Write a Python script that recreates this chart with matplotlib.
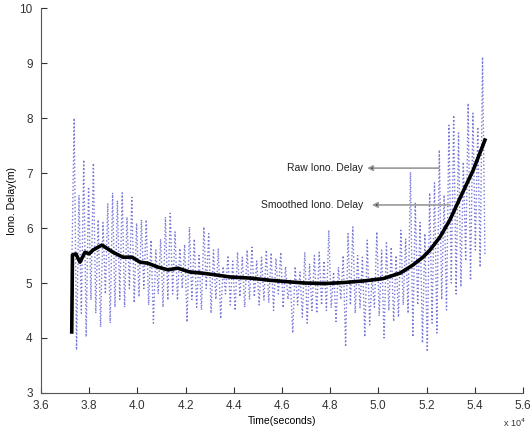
"""
Raw vs smoothed ionospheric delay over time (MATLAB-style figure).
"""

import numpy as np
import matplotlib
matplotlib.use('Agg')
import matplotlib.pyplot as plt
from matplotlib.ticker import ScalarFormatter

plt.rcParams['font.family'] = ['Liberation Sans', 'DejaVu Sans']

# raw delay samples (m), evenly spaced in time
raw_start, raw_end = 37280, 54420
raw_delay = [
    5.20,
    8.00, 3.78, 6.60, 4.45, 7.24, 4.02, 6.75, 4.69, 7.18, 4.45,
    6.15, 4.20, 6.10, 4.80, 6.45, 4.27, 6.64, 4.56, 6.50, 4.70,
    6.64, 4.56, 6.20, 4.90, 6.56, 4.64, 6.09, 4.75, 6.15, 4.90,
    6.15, 4.60, 5.78, 4.27, 5.60, 4.80, 5.80, 4.56, 6.20, 4.69,
    6.27, 4.80, 5.93, 4.69, 5.63, 4.90, 5.70, 4.29, 6.02, 4.70,
    5.80, 4.56, 5.50, 4.51, 6.02, 4.90, 5.90, 4.45, 5.60, 4.70,
    5.63, 4.35, 5.30, 4.80, 5.50, 4.60, 5.40, 4.50, 5.56, 4.75,
    5.47, 4.56, 5.60, 4.70, 5.65, 4.75, 5.40, 4.60, 5.47, 4.69,
    5.60, 4.64, 5.55, 4.50, 5.45, 4.80, 5.56, 4.55, 5.30, 4.70,
    5.05, 4.09, 5.30, 4.60, 5.20, 4.38, 5.56, 4.27, 5.35, 4.50,
    5.50, 4.45, 5.56, 4.60, 5.40, 4.50, 5.96, 4.55, 5.20, 4.30,
    5.29, 4.70, 5.50, 3.84, 5.90, 4.60, 6.02, 4.45, 5.50, 4.55,
    5.47, 4.02, 5.78, 4.24, 5.10, 4.56, 5.93, 4.40, 5.60, 4.00,
    5.73, 4.50, 5.65, 4.30, 5.50, 4.38, 5.96, 4.60, 5.80, 4.45,
    7.02, 4.02, 6.45, 4.60, 6.10, 3.91, 5.90, 3.75, 6.64, 4.27,
    6.82, 4.09, 7.42, 4.70, 6.60, 4.51, 7.87, 5.00, 8.05, 4.80,
    7.73, 4.93, 7.20, 5.40, 8.27, 5.05, 8.09, 5.60, 7.84, 5.29,
    9.11, 5.50,
]

# smoothed delay (m)
smooth_time = [37280, 37310, 37450, 37620, 37830, 38000, 38160, 38530,
               38990, 39400, 39780, 40110, 40440, 40850, 41270, 41680,
               42180, 42680, 43220, 43840, 44670, 45500, 46330, 46950,
               47780, 48610, 49440, 50190, 50900, 51440, 51850, 52140,
               52560, 52970, 53390, 53930, 54420]
smooth_delay = [4.11, 5.51, 5.53, 5.38, 5.56, 5.53, 5.60, 5.69,
                5.56, 5.47, 5.47, 5.38, 5.36, 5.29, 5.24, 5.27,
                5.20, 5.18, 5.15, 5.11, 5.09, 5.05, 5.02, 5.00,
                4.99, 5.01, 5.04, 5.08, 5.18, 5.33, 5.47, 5.60,
                5.84, 6.15, 6.55, 7.05, 7.60]

raw_time = np.linspace(raw_start, raw_end, len(raw_delay))

fig = plt.figure(figsize=(5.31, 4.29), dpi=100)
ax = fig.add_axes([0.077, 0.084, 0.908, 0.897])

ax.plot(raw_time, raw_delay, linestyle=':', color='#7676d8', linewidth=1.0)
ax.plot(smooth_time, smooth_delay, color='black', linewidth=2.6)

ax.set_xlim(36000, 56000)
ax.set_ylim(3, 10)
ax.set_xticks(np.arange(36000, 56001, 2000))
ax.set_yticks(range(3, 11))

fmt = ScalarFormatter(useMathText=True)
fmt.set_powerlimits((0, 0))
ax.xaxis.set_major_formatter(fmt)
ax.xaxis.get_offset_text().set_visible(False)
fig.text(0.99, 0.001, r'x 10$^4$', ha='right', va='bottom',
         fontsize=6.5, color='#333333')

for side in ['top', 'right']:
    ax.spines[side].set_visible(False)
for side in ['left', 'bottom']:
    ax.spines[side].set_color('#555555')
ax.tick_params(direction='in', length=4, labelsize=8.5, colors='#333333')
ax.tick_params(axis='x', pad=4)
ax.tick_params(axis='y', pad=6)

ax.set_xlabel('Time(seconds)', fontsize=7.5, labelpad=3)
ax.set_ylabel('Iono. Delay(m)', fontsize=7.5, labelpad=2)

# annotations with arrows pointing to the labels
arrow = dict(arrowstyle='-|>', ec='#999999', fc='black', lw=1.2,
             mutation_scale=8, shrinkA=0, shrinkB=0)
ax.annotate('', xy=(49530, 7.09), xytext=(52510, 7.09), arrowprops=arrow)
ax.annotate('', xy=(49730, 6.42), xytext=(52970, 6.42), arrowprops=arrow)
ax.text(49360, 7.09, 'Raw Iono. Delay', ha='right', va='center',
        fontsize=7.5, color='#222222')
ax.text(49360, 6.42, 'Smoothed Iono. Delay', ha='right', va='center',
        fontsize=7.5, color='#222222')

plt.savefig('out.png', dpi=100)
